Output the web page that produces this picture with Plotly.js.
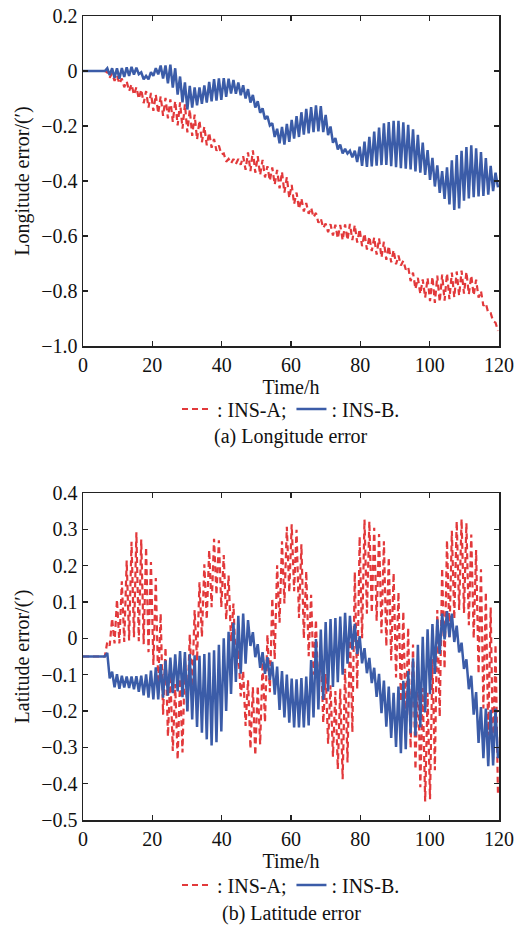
<!DOCTYPE html>
<html>
<head>
<meta charset="utf-8">
<script src="https://cdn.plot.ly/plotly-3.0.1.min.js"></script>
<style>html,body{margin:0;padding:0;background:#fff;}#chart{width:516px;height:926px;}</style>
</head>
<body>
<div id="chart"></div>
<script>
// Sampling step of the read-off values (hours)
const STEP_H = 0.7;
const xTickVals = [0, 20, 40, 60, 80, 100, 120];
const xTickText = ['0', '20', '40', '60', '80', '100', '120'];
const lonTickVals = [0.2, 0, -0.2, -0.4, -0.6, -0.8, -1.0];
const lonTickText = ['0.2', '0', '\u22120.2', '\u22120.4', '\u22120.6', '\u22120.8', '\u22121.0'];
const latTickVals = [0.4, 0.3, 0.2, 0.1, 0, -0.1, -0.2, -0.3, -0.4, -0.5];
const latTickText = ['0.4', '0.3', '0.2', '0.1', '0', '\u22120.1', '\u22120.2', '\u22120.3', '\u22120.4', '\u22120.5'];
const seriesNames = [': INS-A;', ': INS-B.'];

// (a) Longitude error, INS-A
const lonA = [0,0,0,0,0,0,0,0,0,0,
-0.005,-0.024,-0.008,-0.036,-0.016,-0.046,-0.027,-0.059,-0.037,-0.073,
-0.048,-0.087,-0.059,-0.101,-0.067,-0.117,-0.073,-0.133,-0.08,-0.145,
-0.086,-0.154,-0.092,-0.163,-0.098,-0.172,-0.103,-0.185,-0.109,-0.198,
-0.114,-0.21,-0.121,-0.223,-0.14,-0.236,-0.159,-0.249,-0.18,-0.259,
-0.202,-0.27,-0.224,-0.279,-0.247,-0.29,-0.271,-0.303,-0.3,-0.33,
-0.32,-0.336,-0.32,-0.338,-0.32,-0.341,-0.31,-0.359,-0.296,-0.364,
-0.289,-0.37,-0.31,-0.378,-0.323,-0.387,-0.346,-0.399,-0.351,-0.413,
-0.36,-0.427,-0.367,-0.442,-0.386,-0.462,-0.414,-0.484,-0.442,-0.502,
-0.463,-0.511,-0.48,-0.519,-0.497,-0.532,-0.516,-0.552,-0.536,-0.571,
-0.555,-0.586,-0.557,-0.598,-0.559,-0.609,-0.56,-0.615,-0.558,-0.615,
-0.556,-0.615,-0.56,-0.624,-0.575,-0.637,-0.591,-0.649,-0.602,-0.655,
-0.605,-0.668,-0.609,-0.678,-0.621,-0.687,-0.636,-0.696,-0.651,-0.703,
-0.671,-0.707,-0.69,-0.722,-0.712,-0.764,-0.733,-0.793,-0.752,-0.811,
-0.758,-0.824,-0.753,-0.837,-0.748,-0.843,-0.744,-0.84,-0.74,-0.835,
-0.736,-0.83,-0.733,-0.823,-0.729,-0.817,-0.726,-0.81,-0.73,-0.812,
-0.744,-0.816,-0.759,-0.824,-0.8,-0.854,-0.845,-0.88,-0.88,-0.91,
-0.915,-0.945];

// (a) Longitude error, INS-B
const lonB = [0,0,0,0,0,0,0,0,0,0,
0.01,-0.015,0.01,-0.025,0.01,-0.028,0.011,-0.022,0.013,-0.018,
0.015,-0.013,0.012,-0.012,-0.005,-0.03,-0.018,-0.03,-0.004,-0.018,
0.01,-0.012,0.02,-0.027,0.02,-0.045,0.023,-0.06,0.01,-0.086,
-0.02,-0.114,-0.041,-0.14,-0.054,-0.133,-0.06,-0.125,-0.06,-0.119,
-0.052,-0.115,-0.04,-0.11,-0.03,-0.108,-0.027,-0.105,-0.026,-0.094,
-0.028,-0.082,-0.033,-0.083,-0.042,-0.088,-0.052,-0.1,-0.066,-0.115,
-0.087,-0.133,-0.11,-0.152,-0.136,-0.175,-0.164,-0.198,-0.19,-0.24,
-0.21,-0.263,-0.203,-0.268,-0.192,-0.258,-0.178,-0.246,-0.164,-0.24,
-0.15,-0.231,-0.138,-0.227,-0.131,-0.222,-0.125,-0.22,-0.128,-0.222,
-0.16,-0.233,-0.202,-0.261,-0.244,-0.285,-0.268,-0.3,-0.283,-0.3,
-0.29,-0.314,-0.29,-0.331,-0.275,-0.345,-0.257,-0.349,-0.239,-0.347,
-0.22,-0.344,-0.206,-0.342,-0.19,-0.342,-0.186,-0.346,-0.181,-0.35,
-0.181,-0.353,-0.187,-0.355,-0.196,-0.358,-0.212,-0.365,-0.232,-0.37,
-0.26,-0.378,-0.288,-0.396,-0.316,-0.42,-0.343,-0.443,-0.364,-0.465,
-0.35,-0.485,-0.325,-0.505,-0.306,-0.5,-0.29,-0.472,-0.277,-0.463,
-0.27,-0.459,-0.281,-0.456,-0.295,-0.454,-0.317,-0.45,-0.345,-0.437,
-0.37,-0.423];

// (b) Latitude error, INS-A
const latA = [-0.05,-0.05,-0.05,-0.05,-0.05,-0.05,-0.05,-0.05,-0.05,-0.05,
-0.01,-0.02,0.055,-0.014,0.107,-0.014,0.157,-0.01,0.214,-0.006,
0.266,0.003,0.292,-0.008,0.272,-0.016,0.251,-0.038,0.21,-0.073,
0.166,-0.126,0.068,-0.21,-0.025,-0.27,-0.1,-0.31,-0.126,-0.334,
-0.111,-0.314,-0.054,-0.2,0.01,-0.134,0.078,-0.062,0.154,0.004,
0.204,0.052,0.243,0.086,0.274,0.12,0.27,0.086,0.229,0.052,
0.173,-0.009,0.096,-0.08,-0.031,-0.16,-0.09,-0.241,-0.115,-0.304,
-0.135,-0.322,-0.131,-0.292,-0.065,-0.231,0.01,-0.148,0.111,-0.058,
0.201,0.043,0.267,0.096,0.307,0.127,0.314,0.13,0.299,0.056,
0.259,0.0,0.185,-0.049,0.12,-0.1,0.051,-0.166,-0.021,-0.233,
-0.098,-0.29,-0.129,-0.326,-0.145,-0.36,-0.139,-0.388,-0.084,-0.342,
0.023,-0.258,0.182,-0.14,0.28,0.0,0.327,0.068,0.322,0.07,
0.304,0.048,0.287,0.014,0.267,-0.022,0.223,-0.061,0.18,-0.108,
0.127,-0.174,0.074,-0.238,0.029,-0.302,-0.017,-0.361,-0.076,-0.41,
-0.137,-0.449,-0.15,-0.443,-0.057,-0.363,0.078,-0.216,0.193,-0.084,
0.27,0.003,0.296,0.053,0.322,0.078,0.328,0.07,0.317,0.036,
0.286,0.0,0.243,-0.097,0.19,-0.193,0.127,-0.268,0.085,-0.334,
-0.017,-0.43];

// (b) Latitude error, INS-B
const latB = [-0.05,-0.05,-0.05,-0.05,-0.05,-0.05,-0.05,-0.05,-0.05,-0.05,
-0.04,-0.11,-0.092,-0.135,-0.099,-0.139,-0.103,-0.135,-0.105,-0.137,
-0.105,-0.14,-0.104,-0.147,-0.103,-0.157,-0.099,-0.163,-0.089,-0.168,
-0.08,-0.168,-0.071,-0.163,-0.061,-0.158,-0.053,-0.151,-0.044,-0.146,
-0.035,-0.162,-0.038,-0.201,-0.043,-0.223,-0.047,-0.244,-0.048,-0.26,
-0.043,-0.278,-0.039,-0.295,-0.033,-0.286,-0.018,-0.256,0.0,-0.2,
0.018,-0.153,0.043,-0.12,0.062,-0.097,0.068,-0.07,0.05,-0.021,
0.017,-0.052,-0.016,-0.081,-0.038,-0.098,-0.052,-0.114,-0.065,-0.155,
-0.078,-0.197,-0.09,-0.218,-0.1,-0.232,-0.111,-0.245,-0.113,-0.245,
-0.109,-0.245,-0.105,-0.24,-0.06,-0.218,-0.002,-0.196,0.024,-0.169,
0.045,-0.146,0.053,-0.134,0.056,-0.121,0.06,-0.1,0.07,-0.07,
0.062,-0.031,0.04,-0.043,0.006,-0.069,-0.027,-0.096,-0.054,-0.123,
-0.081,-0.161,-0.098,-0.206,-0.116,-0.243,-0.133,-0.274,-0.15,-0.299,
-0.133,-0.316,-0.117,-0.305,-0.09,-0.261,-0.055,-0.268,-0.018,-0.245,
0.004,-0.204,0.025,-0.154,0.039,-0.098,0.052,-0.043,0.068,-0.003,
0.075,0.003,0.068,-0.01,0.035,-0.039,-0.012,-0.084,-0.058,-0.14,
-0.103,-0.21,-0.148,-0.288,-0.189,-0.33,-0.193,-0.352,-0.197,-0.35,
-0.193,-0.33];

const timeOf = arr => arr.map((_, i) => +(i * STEP_H).toFixed(2));

const RED = '#e2393b';
const BLUE = '#3b5ca8';
const FONT = 'Liberation Serif, Times New Roman, serif';
const FS = 20;

const traces = [
  {x: timeOf(lonA), y: lonA, xaxis: 'x', yaxis: 'y', name: seriesNames[0], legend: 'legend',
   mode: 'lines', line: {color: RED, width: 2.2, dash: '6px,4px'}},
  {x: timeOf(lonB), y: lonB, xaxis: 'x', yaxis: 'y', name: seriesNames[1], legend: 'legend',
   mode: 'lines', line: {color: BLUE, width: 2.5}},
  {x: timeOf(latA), y: latA, xaxis: 'x2', yaxis: 'y2', name: seriesNames[0], legend: 'legend2',
   mode: 'lines', line: {color: RED, width: 2.2, dash: '6px,4px'}},
  {x: timeOf(latB), y: latB, xaxis: 'x2', yaxis: 'y2', name: seriesNames[1], legend: 'legend2',
   mode: 'lines', line: {color: BLUE, width: 2.5}}
];

const H = 926, W = 516;
const px2x = p => p / W;
const px2y = p => 1 - p / H;
const tfont = () => ({family: FONT, size: FS, color: '#111'});

const axisCommon = {
  showline: true, mirror: 'ticks', linecolor: '#222', linewidth: 1.5,
  ticks: 'inside', ticklen: 5, tickwidth: 1.2, tickcolor: '#222',
  showgrid: false, zeroline: false,
  tickfont: tfont()
};

const legendCommon = {
  orientation: 'h', xanchor: 'center', yanchor: 'middle',
  font: tfont(),
  bgcolor: 'rgba(0,0,0,0)', itemwidth: 30, traceorder: 'normal'
};

const layout = {
  width: W, height: H,
  margin: {l: 0, r: 0, t: 0, b: 0},
  paper_bgcolor: '#fff', plot_bgcolor: '#fff',
  font: tfont(),
  showlegend: true,
  xaxis: Object.assign({}, axisCommon, {
    domain: [px2x(83), px2x(499)], range: [0, 120], anchor: 'y',
    tickvals: xTickVals, ticktext: xTickText,
    title: {text: 'Time/h', font: tfont(), standoff: 0}
  }),
  yaxis: Object.assign({}, axisCommon, {
    domain: [px2y(346), px2y(16)], range: [-1.0, 0.2], anchor: 'x',
    tickvals: lonTickVals, ticktext: lonTickText,
    title: {text: 'Longitude error/(\u2032)', font: tfont(), standoff: 6}
  }),
  xaxis2: Object.assign({}, axisCommon, {
    domain: [px2x(83), px2x(499)], range: [0, 120], anchor: 'y2',
    tickvals: xTickVals, ticktext: xTickText,
    title: {text: 'Time/h', font: tfont(), standoff: 0}
  }),
  yaxis2: Object.assign({}, axisCommon, {
    domain: [px2y(820), px2y(493)], range: [-0.5, 0.4], anchor: 'x2',
    tickvals: latTickVals, ticktext: latTickText,
    title: {text: 'Latitude error/(\u2032)', font: tfont(), standoff: 6}
  }),
  legend: Object.assign({}, legendCommon, {x: px2x(291), y: px2y(409)}),
  legend2: Object.assign({}, legendCommon, {x: px2x(291), y: px2y(885)}),
  annotations: [
    {text: '(a) Longitude error', xref: 'paper', yref: 'paper', x: px2x(291), y: px2y(437),
     xanchor: 'center', yanchor: 'middle', showarrow: false, font: tfont()},
    {text: '(b) Latitude error', xref: 'paper', yref: 'paper', x: px2x(291), y: px2y(913),
     xanchor: 'center', yanchor: 'middle', showarrow: false, font: tfont()}
  ]
};

Plotly.newPlot('chart', traces, layout, {displayModeBar: false, staticPlot: true});
</script>
</body>
</html>
